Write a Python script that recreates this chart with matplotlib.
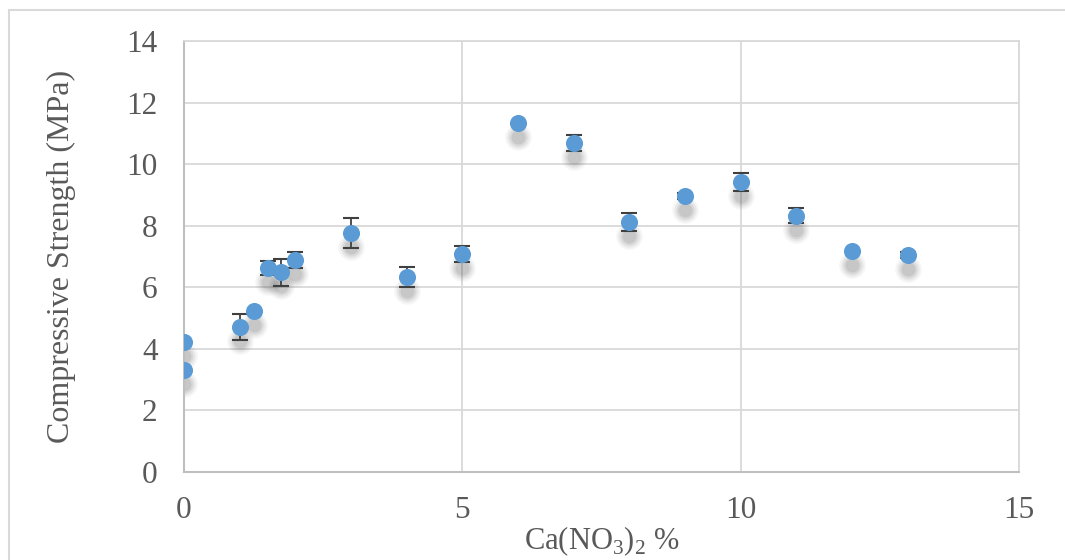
import numpy as np
import matplotlib
matplotlib.use("Agg")
import matplotlib.pyplot as plt
from matplotlib.transforms import offset_copy
from matplotlib.patches import Rectangle

# datos
ca_no3 = np.array([0, 0, 1, 1.25, 1.5, 1.75, 2, 3, 4, 5, 6, 7, 8, 9, 10, 11, 12, 13])
strength = np.array([4.22, 3.31, 4.71, 5.23, 6.62, 6.49, 6.88, 7.76, 6.33, 7.07,
                     11.33, 10.69, 8.12, 8.96, 9.42, 8.33, 7.19, 7.05])
err = np.array([0.0, 0.0, 0.42, 0.0, 0.23, 0.44, 0.26, 0.48, 0.33, 0.26,
                0.0, 0.26, 0.29, 0.10, 0.29, 0.24, 0.0, 0.10])

x_ticks = [0, 5, 10, 15]
y_ticks = [0, 2, 4, 6, 8, 10, 12, 14]

plt.rcParams['font.family'] = ['Liberation Serif', 'DejaVu Serif']
plt.rcParams['mathtext.fontset'] = 'custom'
plt.rcParams['mathtext.rm'] = 'Liberation Serif'

fig = plt.figure(figsize=(10.65, 5.6), dpi=100)
ax = fig.add_axes([184 / 1065, 1 - 472 / 560, (1019 - 184) / 1065, (472 - 41) / 560])

# borde exterior del grafico
fig.patches.append(Rectangle((9 / 1065, -0.1), 1.2, 1 - 10 / 560 + 0.1,
                             transform=fig.transFigure, fill=False,
                             edgecolor='#d9d9d9', lw=1.5))

# sombra difusa bajo cada punto
for ms, a in [(19, 0.05), (16, 0.07), (13, 0.09), (10, 0.11)]:
    tr = offset_copy(ax.transData, fig=fig, x=0, y=-14, units='dots')
    ax.plot(ca_no3, strength, 'o', ms=ms, color='#404040', alpha=a,
            mec='none', transform=tr, zorder=2)

mask = err > 0
ax.errorbar(ca_no3[mask], strength[mask], yerr=err[mask], fmt='none',
            ecolor='#404040', elinewidth=1.3, capsize=6, capthick=1.5, zorder=3)
ax.plot(ca_no3, strength, 'o', ms=12.3, color='#5b9bd5', mec='none', zorder=4)

ax.set_xlim(0, 15)
ax.set_ylim(0, 14)
ax.set_xticks(x_ticks)
ax.set_yticks(y_ticks)
ax.grid(True, color='#d9d9d9', lw=1.3)
ax.set_axisbelow(True)
for s in ['top', 'right']:
    ax.spines[s].set_color('#d9d9d9')
    ax.spines[s].set_linewidth(1.3)
for s in ['left', 'bottom']:
    ax.spines[s].set_color('#bfbfbf')
    ax.spines[s].set_linewidth(1.5)
ax.tick_params(length=0, labelsize=22.5, colors='#595959')
ax.tick_params(axis='y', pad=19)
ax.tick_params(axis='x', pad=17)

ax.set_xlabel(r'Ca(NO$_3$)$_2$ %', fontsize=22, color='#595959', labelpad=0)
ax.set_ylabel('Compressive Strength (MPa)', fontsize=23, color='#595959', labelpad=36)

fig.savefig('out.png', dpi=100)
